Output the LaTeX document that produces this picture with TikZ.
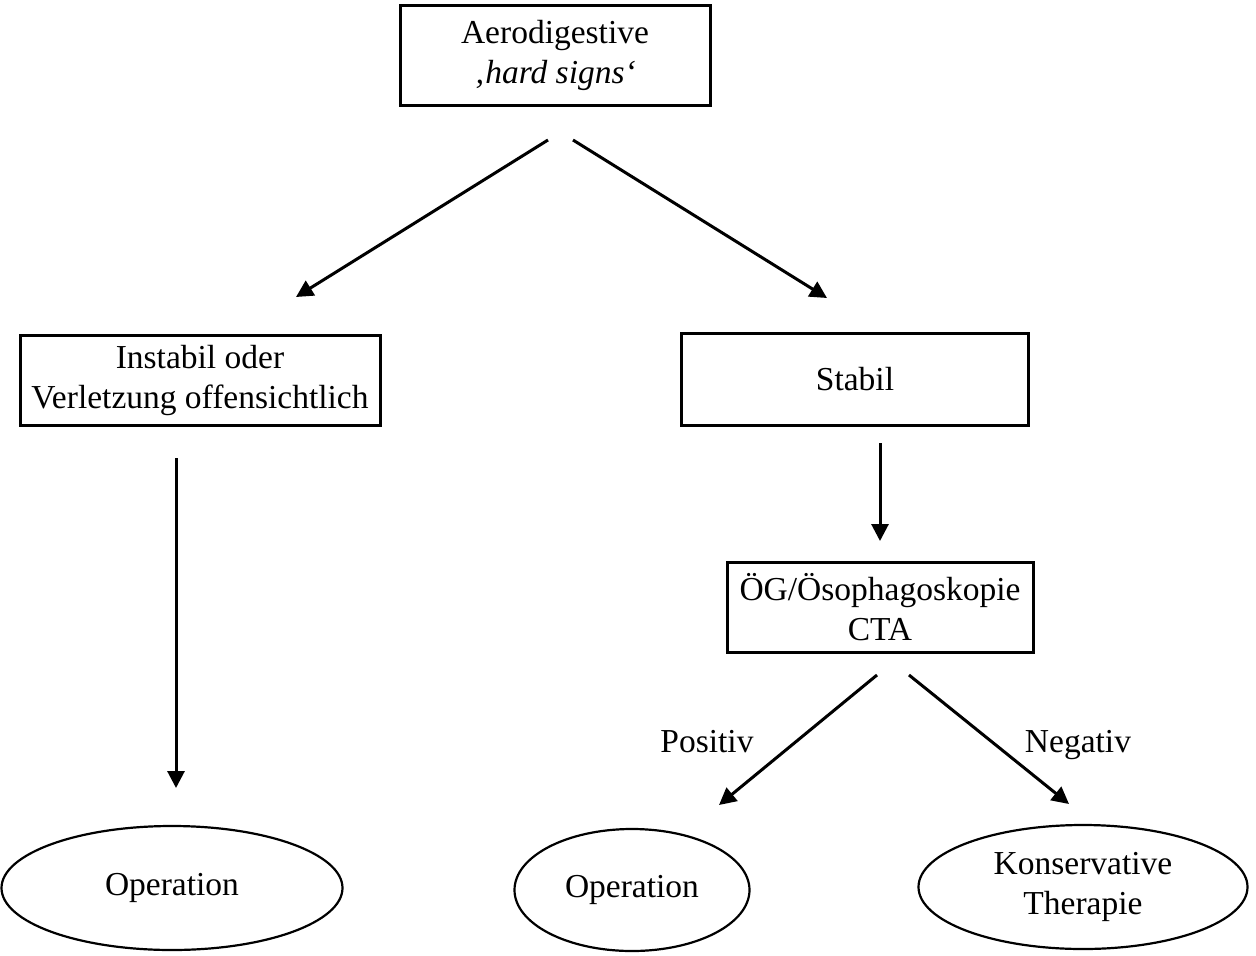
\documentclass[tikz,border=0pt]{standalone}
\usepackage{fontspec}
\setmainfont{Liberation Serif}
\usetikzlibrary{shapes.geometric,arrows.meta}
\begin{document}
\begin{tikzpicture}[x=1pt,y=-1pt,
  every node/.style={font=\fontsize{33.5}{40}\selectfont, align=center, inner sep=0pt},
  box/.style={draw, line width=3pt, rectangle},
  oval/.style={draw, line width=2.2pt, ellipse},
  arr/.style={line width=3pt, -{Triangle[length=17pt,width=17pt]}},
  lbl/.style={anchor=base}]
\useasboundingbox (0,0) rectangle (1256,956);
\node[box, minimum width=310, minimum height=100] (top) at (555,55) {Aerodigestive\\\textit{‚hard signs‘}};
\node[box, minimum width=360, minimum height=90] (inst) at (200,380) {Instabil oder\\Verletzung offensichtlich};
\node[box, minimum width=347, minimum height=92] (stab) at (855,379) {Stabil};
\node[box, minimum width=306, minimum height=90] (oeg) at (880,607) {ÖG/Ösophagoskopie\\CTA};
\node[oval, minimum width=341, minimum height=124] (op1) at (172,888) {Operation};
\node[oval, minimum width=235, minimum height=122] (op2) at (632,890) {Operation};
\node[oval, minimum width=329, minimum height=124] (kons) at (1083,887) {Konservative\\Therapie};
\node[lbl] (pos) at (707,752) {Positiv};
\node[lbl] (neg) at (1078,752) {Negativ};
\coordinate (a1s) at (548,140); \coordinate (a1e) at (296,297);
\coordinate (a2s) at (573,140); \coordinate (a2e) at (827,298);
\coordinate (a3s) at (176,458); \coordinate (a3e) at (176,788);
\coordinate (a4s) at (880,443); \coordinate (a4e) at (880,541);
\coordinate (a5s) at (877,675); \coordinate (a5e) at (719,805);
\coordinate (a6s) at (909,675); \coordinate (a6e) at (1069,804);
\draw[arr] (a1s) -- (a1e);
\draw[arr] (a2s) -- (a2e);
\draw[arr] (a3s) -- (a3e);
\draw[arr] (a4s) -- (a4e);
\draw[arr] (a5s) -- (a5e);
\draw[arr] (a6s) -- (a6e);
\end{tikzpicture}
\end{document}
